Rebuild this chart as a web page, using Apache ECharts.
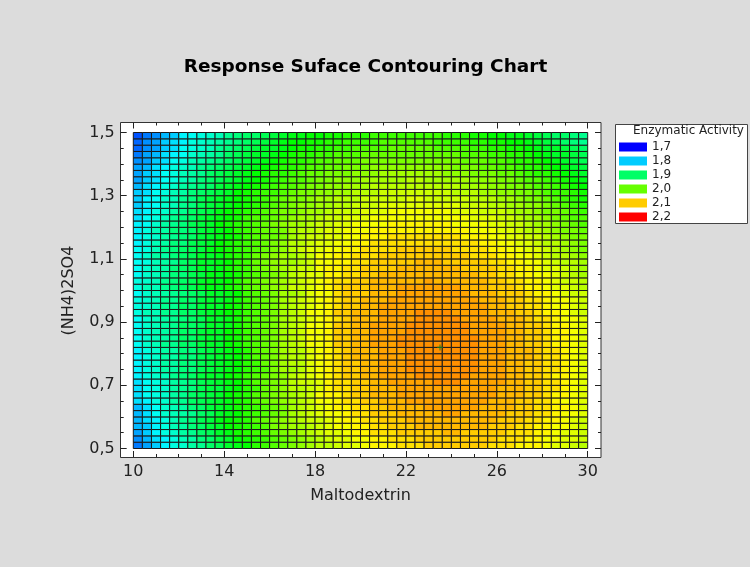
<!DOCTYPE html>
<html><head><meta charset="utf-8">
<script src="https://cdn.jsdelivr.net/npm/echarts@6/dist/echarts.min.js"></script>
<style>html,body{margin:0;padding:0;background:#dcdcdc}#chart{width:750px;height:567px}</style>
</head><body><div id="chart"></div>
<script>
const titleText = 'Response Suface Contouring Chart';
const xName = 'Maltodextrin';
const yName = '(NH4)2SO4';
const legendTitle = 'Enzymatic Activity';
const xTicks = [10, 14, 18, 22, 26, 30];
const yTicks = [0.5, 0.7, 0.9, 1.1, 1.3, 1.5];
const legendLevels = [1.7, 1.8, 1.9, 2.0, 2.1, 2.2];
const optimum = [[23.5, 0.82]];
// cell centres
const maltodextrin = [10.2,10.6,11.0,11.4,11.8,12.2,12.6,13.0,13.4,13.8,14.2,14.6,15.0,15.4,15.8,16.2,16.6,17.0,17.4,17.8,18.2,18.6,19.0,19.4,19.8,20.2,20.6,21.0,21.4,21.8,22.2,22.6,23.0,23.4,23.8,24.2,24.6,25.0,25.4,25.8,26.2,26.6,27.0,27.4,27.8,28.2,28.6,29.0,29.4,29.8];
const ammonium = [0.51,0.53,0.55,0.57,0.59,0.61,0.63,0.65,0.67,0.69,0.71,0.73,0.75,0.77,0.79,0.81,0.83,0.85,0.87,0.89,0.91,0.93,0.95,0.97,0.99,1.01,1.03,1.05,1.07,1.09,1.11,1.13,1.15,1.17,1.19,1.21,1.23,1.25,1.27,1.29,1.31,1.33,1.35,1.37,1.39,1.41,1.43,1.45,1.47,1.49];
// activity[row = ammonium index][col = maltodextrin index]
const activity = [
[1.76,1.78,1.80,1.82,1.84,1.85,1.87,1.88,1.90,1.91,1.93,1.94,1.95,1.97,1.98,1.99,2.00,2.01,2.02,2.03,2.04,2.04,2.05,2.06,2.06,2.07,2.08,2.08,2.08,2.09,2.09,2.09,2.10,2.10,2.10,2.10,2.10,2.10,2.10,2.09,2.09,2.09,2.08,2.08,2.08,2.07,2.06,2.06,2.05,2.04],
[1.77,1.79,1.81,1.82,1.84,1.86,1.87,1.89,1.90,1.92,1.93,1.95,1.96,1.97,1.98,1.99,2.00,2.01,2.02,2.03,2.04,2.05,2.06,2.06,2.07,2.07,2.08,2.08,2.09,2.09,2.09,2.10,2.10,2.10,2.10,2.10,2.10,2.10,2.10,2.10,2.09,2.09,2.09,2.08,2.08,2.07,2.07,2.06,2.06,2.05],
[1.78,1.80,1.82,1.84,1.85,1.87,1.88,1.90,1.91,1.93,1.94,1.96,1.97,1.98,1.99,2.00,2.01,2.02,2.03,2.04,2.05,2.06,2.06,2.07,2.08,2.08,2.09,2.09,2.09,2.10,2.10,2.10,2.10,2.10,2.11,2.11,2.10,2.10,2.10,2.10,2.10,2.09,2.09,2.09,2.08,2.08,2.07,2.06,2.06,2.05],
[1.79,1.80,1.82,1.84,1.86,1.87,1.89,1.90,1.92,1.93,1.95,1.96,1.97,1.98,1.99,2.01,2.02,2.03,2.03,2.04,2.05,2.06,2.07,2.07,2.08,2.08,2.09,2.09,2.10,2.10,2.10,2.11,2.11,2.11,2.11,2.11,2.11,2.11,2.11,2.10,2.10,2.10,2.09,2.09,2.08,2.08,2.07,2.07,2.06,2.05],
[1.79,1.81,1.82,1.84,1.86,1.88,1.89,1.91,1.92,1.94,1.95,1.96,1.97,1.99,2.00,2.01,2.02,2.03,2.04,2.05,2.05,2.06,2.07,2.08,2.08,2.09,2.09,2.10,2.10,2.10,2.11,2.11,2.11,2.11,2.11,2.11,2.11,2.11,2.11,2.11,2.10,2.10,2.10,2.09,2.09,2.08,2.08,2.07,2.06,2.05],
[1.79,1.81,1.83,1.85,1.86,1.87,1.88,1.90,1.91,1.93,1.94,1.95,1.97,1.98,1.99,2.00,2.01,2.03,2.04,2.05,2.06,2.07,2.07,2.08,2.09,2.09,2.10,2.10,2.10,2.11,2.11,2.11,2.11,2.11,2.12,2.12,2.11,2.11,2.11,2.11,2.11,2.10,2.10,2.10,2.09,2.09,2.08,2.07,2.07,2.06],
[1.79,1.81,1.83,1.85,1.86,1.87,1.89,1.90,1.92,1.93,1.94,1.96,1.97,1.98,1.99,2.00,2.01,2.03,2.04,2.05,2.06,2.07,2.08,2.08,2.09,2.09,2.10,2.10,2.11,2.11,2.11,2.11,2.12,2.12,2.12,2.12,2.12,2.12,2.11,2.11,2.11,2.11,2.10,2.10,2.09,2.09,2.08,2.08,2.07,2.06],
[1.81,1.82,1.84,1.85,1.87,1.88,1.90,1.91,1.92,1.93,1.94,1.96,1.97,1.99,2.00,2.01,2.02,2.03,2.04,2.05,2.07,2.07,2.08,2.09,2.09,2.10,2.10,2.11,2.11,2.11,2.12,2.12,2.12,2.12,2.12,2.12,2.12,2.12,2.12,2.11,2.11,2.11,2.10,2.10,2.09,2.09,2.08,2.07,2.07,2.06],
[1.81,1.83,1.84,1.85,1.87,1.88,1.90,1.91,1.92,1.93,1.95,1.96,1.97,1.99,2.00,2.01,2.02,2.03,2.04,2.05,2.07,2.08,2.08,2.09,2.10,2.10,2.11,2.11,2.11,2.12,2.12,2.12,2.12,2.12,2.12,2.12,2.12,2.12,2.12,2.12,2.11,2.11,2.11,2.10,2.10,2.09,2.08,2.08,2.07,2.06],
[1.81,1.83,1.84,1.85,1.87,1.88,1.89,1.91,1.92,1.92,1.94,1.95,1.97,1.98,2.00,2.01,2.02,2.04,2.04,2.05,2.06,2.08,2.09,2.09,2.10,2.10,2.11,2.11,2.11,2.12,2.12,2.12,2.12,2.12,2.12,2.12,2.12,2.12,2.12,2.12,2.11,2.11,2.11,2.10,2.10,2.09,2.09,2.08,2.07,2.06],
[1.81,1.83,1.84,1.85,1.87,1.88,1.89,1.91,1.92,1.93,1.94,1.95,1.97,1.99,2.00,2.01,2.02,2.04,2.05,2.05,2.06,2.08,2.09,2.09,2.10,2.10,2.11,2.11,2.12,2.12,2.12,2.12,2.12,2.13,2.13,2.13,2.12,2.12,2.12,2.12,2.12,2.11,2.11,2.10,2.10,2.09,2.09,2.08,2.07,2.06],
[1.82,1.84,1.85,1.86,1.88,1.89,1.90,1.92,1.93,1.93,1.95,1.96,1.98,1.99,2.00,2.01,2.02,2.04,2.05,2.06,2.07,2.08,2.09,2.10,2.10,2.11,2.11,2.12,2.12,2.12,2.12,2.13,2.13,2.13,2.13,2.13,2.13,2.12,2.12,2.12,2.12,2.11,2.11,2.10,2.10,2.09,2.08,2.08,2.07,2.06],
[1.82,1.84,1.85,1.87,1.87,1.89,1.89,1.91,1.92,1.93,1.94,1.95,1.97,1.98,1.99,2.01,2.03,2.03,2.04,2.06,2.07,2.08,2.09,2.10,2.10,2.11,2.11,2.12,2.12,2.12,2.13,2.13,2.13,2.13,2.13,2.13,2.13,2.13,2.12,2.12,2.12,2.11,2.11,2.10,2.10,2.09,2.09,2.08,2.07,2.06],
[1.82,1.84,1.85,1.87,1.87,1.89,1.89,1.91,1.92,1.93,1.94,1.95,1.97,1.98,2.00,2.01,2.03,2.04,2.04,2.06,2.07,2.08,2.09,2.10,2.10,2.11,2.11,2.12,2.12,2.12,2.13,2.13,2.13,2.13,2.13,2.13,2.13,2.13,2.12,2.12,2.12,2.11,2.11,2.10,2.10,2.09,2.09,2.08,2.07,2.06],
[1.82,1.84,1.85,1.87,1.87,1.89,1.89,1.91,1.92,1.93,1.94,1.95,1.97,1.99,2.00,2.01,2.03,2.04,2.04,2.06,2.07,2.08,2.09,2.10,2.11,2.11,2.11,2.12,2.12,2.12,2.13,2.13,2.13,2.13,2.13,2.13,2.13,2.13,2.12,2.12,2.12,2.11,2.11,2.11,2.10,2.09,2.09,2.08,2.07,2.06],
[1.82,1.84,1.85,1.87,1.87,1.89,1.89,1.91,1.92,1.93,1.94,1.95,1.97,1.99,2.00,2.01,2.03,2.04,2.04,2.06,2.07,2.08,2.09,2.10,2.11,2.11,2.11,2.12,2.12,2.12,2.13,2.13,2.13,2.13,2.13,2.13,2.13,2.13,2.12,2.12,2.12,2.11,2.11,2.11,2.10,2.09,2.09,2.08,2.07,2.06],
[1.83,1.85,1.86,1.88,1.88,1.90,1.90,1.92,1.93,1.93,1.95,1.96,1.98,1.99,2.00,2.01,2.03,2.04,2.05,2.07,2.07,2.08,2.10,2.10,2.11,2.11,2.12,2.12,2.12,2.13,2.13,2.13,2.13,2.13,2.13,2.13,2.13,2.13,2.12,2.12,2.12,2.11,2.11,2.10,2.10,2.09,2.08,2.08,2.07,2.06],
[1.83,1.85,1.86,1.87,1.88,1.90,1.90,1.92,1.93,1.93,1.95,1.96,1.98,1.99,2.00,2.01,2.03,2.04,2.05,2.07,2.07,2.08,2.10,2.10,2.11,2.11,2.12,2.12,2.12,2.13,2.13,2.13,2.13,2.13,2.13,2.13,2.13,2.13,2.12,2.12,2.12,2.11,2.11,2.10,2.10,2.09,2.08,2.08,2.07,2.06],
[1.83,1.85,1.86,1.87,1.88,1.90,1.90,1.92,1.93,1.93,1.95,1.96,1.98,1.99,2.00,2.01,2.03,2.04,2.05,2.07,2.07,2.08,2.10,2.10,2.11,2.11,2.12,2.12,2.12,2.12,2.13,2.13,2.13,2.13,2.13,2.13,2.13,2.12,2.12,2.12,2.12,2.11,2.11,2.10,2.10,2.09,2.08,2.08,2.07,2.06],
[1.83,1.85,1.86,1.87,1.88,1.90,1.90,1.91,1.93,1.93,1.94,1.96,1.98,1.99,2.00,2.01,2.03,2.04,2.05,2.07,2.07,2.08,2.10,2.10,2.11,2.11,2.12,2.12,2.12,2.12,2.13,2.13,2.13,2.13,2.13,2.13,2.13,2.12,2.12,2.12,2.12,2.11,2.11,2.10,2.10,2.09,2.08,2.08,2.07,2.06],
[1.83,1.85,1.86,1.87,1.88,1.89,1.90,1.91,1.93,1.93,1.94,1.96,1.98,1.99,2.00,2.01,2.03,2.04,2.05,2.06,2.07,2.08,2.09,2.10,2.11,2.11,2.11,2.12,2.12,2.12,2.12,2.13,2.13,2.13,2.13,2.13,2.12,2.12,2.12,2.12,2.11,2.11,2.11,2.10,2.09,2.09,2.08,2.07,2.07,2.06],
[1.84,1.86,1.86,1.88,1.88,1.90,1.90,1.92,1.93,1.94,1.95,1.96,1.98,1.99,2.00,2.01,2.03,2.04,2.05,2.07,2.07,2.08,2.10,2.10,2.11,2.11,2.11,2.12,2.12,2.12,2.12,2.13,2.13,2.13,2.13,2.12,2.12,2.12,2.12,2.11,2.11,2.11,2.10,2.10,2.09,2.08,2.08,2.07,2.06,2.05],
[1.84,1.85,1.86,1.88,1.88,1.90,1.90,1.92,1.93,1.93,1.95,1.96,1.98,1.99,2.00,2.01,2.03,2.04,2.05,2.06,2.07,2.08,2.09,2.10,2.10,2.11,2.11,2.12,2.12,2.12,2.12,2.12,2.12,2.12,2.12,2.12,2.12,2.12,2.12,2.11,2.11,2.10,2.10,2.09,2.09,2.08,2.07,2.07,2.06,2.05],
[1.84,1.85,1.86,1.88,1.88,1.90,1.90,1.92,1.93,1.93,1.94,1.96,1.98,1.99,2.00,2.01,2.03,2.04,2.05,2.06,2.07,2.08,2.09,2.10,2.10,2.11,2.11,2.11,2.12,2.12,2.12,2.12,2.12,2.12,2.12,2.12,2.12,2.12,2.11,2.11,2.11,2.10,2.10,2.09,2.09,2.08,2.07,2.07,2.06,2.05],
[1.83,1.85,1.86,1.87,1.88,1.89,1.90,1.91,1.93,1.93,1.94,1.95,1.98,1.99,2.00,2.01,2.03,2.03,2.04,2.06,2.07,2.07,2.09,2.10,2.10,2.10,2.11,2.11,2.11,2.12,2.12,2.12,2.12,2.12,2.12,2.12,2.12,2.11,2.11,2.11,2.10,2.10,2.10,2.09,2.08,2.08,2.07,2.06,2.05,2.05],
[1.84,1.86,1.86,1.88,1.89,1.90,1.91,1.93,1.94,1.94,1.96,1.97,1.99,2.00,2.01,2.02,2.03,2.05,2.05,2.06,2.07,2.08,2.09,2.10,2.10,2.10,2.11,2.11,2.11,2.12,2.12,2.12,2.12,2.12,2.12,2.12,2.11,2.11,2.11,2.10,2.10,2.10,2.09,2.08,2.08,2.07,2.06,2.06,2.05,2.04],
[1.84,1.85,1.86,1.88,1.89,1.90,1.91,1.93,1.94,1.94,1.95,1.97,1.99,2.00,2.01,2.02,2.03,2.04,2.05,2.06,2.07,2.08,2.09,2.09,2.10,2.10,2.11,2.11,2.11,2.11,2.11,2.11,2.12,2.11,2.11,2.11,2.11,2.11,2.11,2.10,2.10,2.09,2.09,2.08,2.08,2.07,2.06,2.05,2.05,2.04],
[1.83,1.85,1.86,1.87,1.89,1.89,1.91,1.92,1.94,1.94,1.95,1.96,1.98,1.99,2.00,2.01,2.02,2.04,2.05,2.06,2.06,2.08,2.08,2.09,2.09,2.10,2.10,2.11,2.11,2.11,2.11,2.11,2.11,2.11,2.11,2.11,2.11,2.11,2.10,2.10,2.09,2.09,2.08,2.08,2.07,2.07,2.06,2.05,2.04,2.03],
[1.83,1.85,1.86,1.87,1.89,1.90,1.91,1.93,1.93,1.94,1.96,1.97,1.98,2.00,2.01,2.02,2.03,2.04,2.05,2.05,2.07,2.08,2.08,2.09,2.09,2.10,2.10,2.10,2.10,2.11,2.11,2.11,2.11,2.11,2.11,2.11,2.10,2.10,2.10,2.10,2.09,2.09,2.08,2.08,2.07,2.06,2.06,2.05,2.04,2.03],
[1.83,1.84,1.86,1.87,1.88,1.90,1.91,1.93,1.93,1.94,1.95,1.97,1.98,2.00,2.01,2.02,2.03,2.03,2.04,2.05,2.07,2.07,2.08,2.08,2.09,2.09,2.10,2.10,2.10,2.10,2.10,2.11,2.11,2.11,2.10,2.10,2.10,2.10,2.10,2.09,2.09,2.08,2.08,2.07,2.07,2.06,2.05,2.04,2.04,2.03],
[1.83,1.85,1.87,1.87,1.89,1.90,1.91,1.93,1.93,1.94,1.96,1.97,1.98,2.00,2.01,2.02,2.03,2.03,2.04,2.05,2.07,2.07,2.08,2.08,2.09,2.09,2.09,2.10,2.10,2.10,2.10,2.10,2.10,2.10,2.10,2.10,2.10,2.09,2.09,2.09,2.08,2.08,2.07,2.07,2.06,2.05,2.04,2.04,2.03,2.02],
[1.83,1.84,1.86,1.88,1.89,1.90,1.91,1.92,1.94,1.95,1.96,1.97,1.98,1.99,2.00,2.01,2.02,2.04,2.05,2.06,2.06,2.07,2.07,2.08,2.08,2.09,2.09,2.09,2.09,2.10,2.10,2.10,2.10,2.10,2.10,2.09,2.09,2.09,2.09,2.08,2.08,2.07,2.07,2.06,2.06,2.05,2.04,2.03,2.02,2.01],
[1.82,1.84,1.86,1.87,1.89,1.89,1.91,1.92,1.93,1.95,1.96,1.97,1.98,1.99,2.00,2.01,2.02,2.04,2.04,2.05,2.06,2.06,2.07,2.07,2.08,2.08,2.09,2.09,2.09,2.09,2.09,2.09,2.09,2.09,2.09,2.09,2.09,2.09,2.08,2.08,2.07,2.07,2.06,2.06,2.05,2.04,2.04,2.03,2.02,2.01],
[1.82,1.84,1.85,1.87,1.88,1.89,1.90,1.92,1.93,1.94,1.95,1.96,1.98,1.99,2.00,2.00,2.01,2.03,2.04,2.05,2.05,2.06,2.06,2.07,2.07,2.08,2.08,2.08,2.09,2.09,2.09,2.09,2.09,2.09,2.09,2.09,2.08,2.08,2.08,2.07,2.07,2.06,2.06,2.05,2.05,2.04,2.03,2.02,2.01,2.01],
[1.82,1.84,1.86,1.87,1.89,1.89,1.90,1.92,1.93,1.94,1.95,1.97,1.98,1.99,2.00,2.00,2.01,2.03,2.04,2.04,2.05,2.06,2.06,2.07,2.07,2.07,2.08,2.08,2.08,2.08,2.08,2.08,2.08,2.08,2.08,2.08,2.08,2.07,2.07,2.07,2.06,2.06,2.05,2.04,2.04,2.03,2.02,2.01,2.01,2.00],
[1.82,1.83,1.85,1.87,1.88,1.89,1.91,1.92,1.93,1.95,1.96,1.97,1.98,1.99,2.00,2.01,2.02,2.03,2.03,2.04,2.05,2.05,2.06,2.06,2.07,2.07,2.07,2.07,2.08,2.08,2.08,2.08,2.08,2.08,2.08,2.07,2.07,2.07,2.07,2.06,2.06,2.05,2.05,2.04,2.03,2.03,2.02,2.01,2.00,1.99],
[1.81,1.83,1.84,1.86,1.88,1.89,1.90,1.92,1.93,1.94,1.95,1.96,1.98,1.99,1.99,2.00,2.01,2.02,2.03,2.03,2.04,2.05,2.05,2.06,2.06,2.06,2.07,2.07,2.07,2.07,2.07,2.07,2.07,2.07,2.07,2.07,2.07,2.06,2.06,2.06,2.05,2.05,2.04,2.03,2.03,2.02,2.01,2.00,1.99,1.99],
[1.81,1.82,1.84,1.85,1.87,1.88,1.90,1.91,1.92,1.94,1.95,1.96,1.97,1.98,1.99,2.00,2.01,2.01,2.02,2.03,2.03,2.04,2.05,2.05,2.05,2.06,2.06,2.06,2.07,2.07,2.07,2.07,2.07,2.07,2.07,2.06,2.06,2.06,2.05,2.05,2.05,2.04,2.03,2.03,2.02,2.01,2.01,2.00,1.99,1.98],
[1.80,1.82,1.83,1.85,1.86,1.88,1.89,1.91,1.92,1.93,1.94,1.95,1.96,1.97,1.98,1.99,2.00,2.01,2.02,2.02,2.03,2.03,2.04,2.04,2.05,2.05,2.05,2.06,2.06,2.06,2.06,2.06,2.06,2.06,2.06,2.06,2.05,2.05,2.05,2.04,2.04,2.03,2.03,2.02,2.02,2.01,2.00,1.99,1.98,1.97],
[1.80,1.82,1.83,1.85,1.86,1.88,1.89,1.91,1.92,1.93,1.94,1.95,1.96,1.97,1.98,1.99,2.00,2.01,2.01,2.02,2.03,2.03,2.04,2.04,2.04,2.05,2.05,2.05,2.05,2.05,2.06,2.06,2.05,2.05,2.05,2.05,2.05,2.04,2.04,2.04,2.03,2.03,2.02,2.01,2.01,2.00,1.99,1.98,1.97,1.96],
[1.80,1.81,1.83,1.84,1.86,1.87,1.89,1.90,1.91,1.92,1.93,1.95,1.96,1.97,1.98,1.98,1.99,2.00,2.01,2.01,2.02,2.02,2.03,2.03,2.04,2.04,2.04,2.05,2.05,2.05,2.05,2.05,2.05,2.05,2.05,2.04,2.04,2.04,2.03,2.03,2.02,2.02,2.01,2.01,2.00,1.99,1.98,1.98,1.97,1.96],
[1.79,1.81,1.82,1.84,1.85,1.87,1.88,1.89,1.90,1.92,1.93,1.94,1.95,1.96,1.97,1.98,1.99,1.99,2.00,2.01,2.01,2.02,2.02,2.03,2.03,2.03,2.04,2.04,2.04,2.04,2.04,2.04,2.04,2.04,2.04,2.04,2.03,2.03,2.03,2.02,2.02,2.01,2.01,2.00,1.99,1.99,1.98,1.97,1.96,1.95],
[1.78,1.80,1.81,1.83,1.84,1.86,1.87,1.89,1.90,1.91,1.92,1.93,1.94,1.95,1.96,1.97,1.98,1.99,1.99,2.00,2.01,2.01,2.02,2.02,2.02,2.03,2.03,2.03,2.03,2.03,2.04,2.04,2.03,2.03,2.03,2.03,2.03,2.02,2.02,2.02,2.01,2.01,2.00,1.99,1.99,1.98,1.97,1.96,1.95,1.94],
[1.78,1.80,1.81,1.83,1.84,1.86,1.87,1.88,1.90,1.91,1.92,1.93,1.94,1.95,1.96,1.97,1.97,1.98,1.99,2.00,2.00,2.01,2.01,2.01,2.02,2.02,2.02,2.03,2.03,2.03,2.03,2.03,2.03,2.03,2.02,2.02,2.02,2.01,2.01,2.01,2.00,2.00,1.99,1.98,1.97,1.97,1.96,1.95,1.94,1.93],
[1.78,1.79,1.81,1.82,1.84,1.85,1.86,1.88,1.89,1.90,1.91,1.92,1.93,1.94,1.95,1.96,1.97,1.97,1.98,1.99,1.99,2.00,2.00,2.01,2.01,2.01,2.02,2.02,2.02,2.02,2.02,2.02,2.02,2.02,2.02,2.01,2.01,2.01,2.00,2.00,1.99,1.99,1.98,1.97,1.97,1.96,1.95,1.94,1.93,1.92],
[1.77,1.78,1.80,1.81,1.83,1.84,1.86,1.87,1.88,1.89,1.90,1.91,1.92,1.93,1.94,1.95,1.96,1.97,1.97,1.98,1.99,1.99,2.00,2.00,2.00,2.01,2.01,2.01,2.01,2.01,2.01,2.01,2.01,2.01,2.01,2.01,2.00,2.00,2.00,1.99,1.99,1.98,1.97,1.97,1.96,1.95,1.94,1.93,1.92,1.91],
[1.76,1.78,1.79,1.81,1.82,1.83,1.85,1.86,1.87,1.88,1.90,1.91,1.92,1.93,1.93,1.94,1.95,1.96,1.97,1.97,1.98,1.98,1.99,1.99,1.99,2.00,2.00,2.00,2.00,2.00,2.00,2.00,2.00,2.00,2.00,2.00,1.99,1.99,1.99,1.98,1.98,1.97,1.97,1.96,1.95,1.94,1.93,1.93,1.92,1.91],
[1.75,1.77,1.78,1.80,1.81,1.83,1.84,1.85,1.86,1.88,1.89,1.90,1.91,1.92,1.93,1.93,1.94,1.95,1.96,1.96,1.97,1.97,1.98,1.98,1.99,1.99,1.99,1.99,2.00,2.00,2.00,2.00,2.00,1.99,1.99,1.99,1.99,1.98,1.98,1.97,1.97,1.96,1.96,1.95,1.94,1.93,1.93,1.92,1.91,1.90],
[1.75,1.77,1.78,1.80,1.81,1.82,1.84,1.85,1.86,1.87,1.88,1.89,1.90,1.91,1.92,1.93,1.94,1.95,1.95,1.96,1.96,1.97,1.97,1.98,1.98,1.98,1.98,1.99,1.99,1.99,1.99,1.99,1.99,1.98,1.98,1.98,1.98,1.97,1.97,1.96,1.96,1.95,1.95,1.94,1.93,1.92,1.91,1.90,1.89,1.88],
[1.74,1.76,1.77,1.79,1.80,1.82,1.83,1.84,1.85,1.86,1.88,1.89,1.90,1.90,1.91,1.92,1.93,1.94,1.94,1.95,1.95,1.96,1.96,1.97,1.97,1.97,1.98,1.98,1.98,1.98,1.98,1.98,1.98,1.98,1.97,1.97,1.97,1.96,1.96,1.95,1.95,1.94,1.94,1.93,1.92,1.91,1.90,1.90,1.89,1.88]
];
const legendColors = ['#0000FF', '#00CCFF', '#00FF66', '#66FF00', '#FFCC00', '#FF0000'];
const scaleColors = ['#0000FF','#0033FF','#0066FF','#0099FF','#00CCFF','#00FFFF','#00FFCC','#00FF99','#00FF66','#00FF33','#00FF00','#33FF00','#66FF00','#99FF00','#CCFF00','#FFFF00','#FFCC00','#FF9900','#FF6600','#FF3300','#FF0000'];

const FONT = 'DejaVu Sans';
const cells = [];
for (let j = 0; j < ammonium.length; j++) {
  for (let i = 0; i < maltodextrin.length; i++) {
    cells.push([maltodextrin[i], ammonium[j], activity[j][i]]);
  }
}
const halfW = (maltodextrin[1] - maltodextrin[0]) / 2;
const halfH = (ammonium[1] - ammonium[0]) / 2;
const fmtComma = v => v.toFixed(1).replace('.', ',');

const tickCommon = {
  axisLine: { show: false },
  axisTick: { show: true, inside: true, length: 6, lineStyle: { color: '#222', width: 1 } },
  minorTick: { show: true, splitNumber: 4, length: 3, lineStyle: { color: '#222', width: 1 } },
  splitLine: { show: false }
};
const xBase = { type: 'value', min: xTicks[0], max: xTicks[xTicks.length - 1], interval: xTicks[1] - xTicks[0] };
const yBase = { type: 'value', min: yTicks[0], max: yTicks[yTicks.length - 1], interval: +(yTicks[1] - yTicks[0]).toFixed(2) };

const chart = echarts.init(document.getElementById('chart'), null, { renderer: 'canvas' });
const legendSeries = legendLevels.map((lv, k) => ({
  name: fmtComma(lv), type: 'line', data: [], xAxisIndex: 0, yAxisIndex: 0,
  itemStyle: { color: legendColors[k] }, lineStyle: { color: legendColors[k] }
}));

chart.setOption({
  backgroundColor: '#dcdcdc',
  animation: false,
  textStyle: { fontFamily: FONT },
  title: {
    text: titleText, left: 360.5, top: 53, textAlign: 'center',
    textStyle: { fontFamily: FONT, fontSize: 18.5, fontWeight: 'bold', color: '#000' }
  },
  graphic: [
    { type: 'rect', z: -10, shape: { x: 120.5, y: 122.5, width: 480.5, height: 335 },
      style: { fill: '#ffffff', stroke: '#333', lineWidth: 1 } },
    { type: 'rect', z: -10, shape: { x: 615.5, y: 124.5, width: 132, height: 99 },
      style: { fill: '#ffffff', stroke: '#444', lineWidth: 1 } },
    { type: 'text', z: 10, left: 633, top: 125,
      style: { text: legendTitle, font: '12px "DejaVu Sans"', fill: '#222' } }
  ],
  legend: {
    orient: 'vertical', left: 619, top: 141, padding: 0,
    itemWidth: 28, itemHeight: 9, itemGap: 2, icon: 'rect',
    selectedMode: false,
    data: legendLevels.map(fmtComma),
    textStyle: { fontFamily: FONT, fontSize: 12, color: '#222', lineHeight: 12 }
  },
  grid: { left: 133.3, top: 132.5, width: 454.4, height: 316, containLabel: false },
  visualMap: {
    type: 'continuous', show: false, min: legendLevels[0], max: legendLevels[legendLevels.length - 1],
    dimension: 2, seriesIndex: 0, inRange: { color: scaleColors }
  },
  xAxis: [
    Object.assign({}, xBase, tickCommon, {
      position: 'bottom', offset: 8.5,
      axisLabel: { fontFamily: FONT, fontSize: 16, color: '#222', margin: 7 },
      name: xName, nameLocation: 'middle', nameGap: 31,
      nameTextStyle: { fontFamily: FONT, fontSize: 16, color: '#222' }
    }),
    Object.assign({}, xBase, tickCommon, {
      position: 'top', offset: 10, axisLabel: { show: false }
    })
  ],
  yAxis: [
    Object.assign({}, yBase, tickCommon, {
      position: 'left', offset: 12.6,
      axisLabel: { fontFamily: FONT, fontSize: 16, color: '#222', margin: 6, formatter: fmtComma },
      name: yName, nameLocation: 'middle', nameGap: 44,
      nameTextStyle: { fontFamily: FONT, fontSize: 16, color: '#222' }
    }),
    Object.assign({}, yBase, tickCommon, {
      position: 'right', offset: 13.3, axisLabel: { show: false }
    })
  ],
  series: [
    {
      type: 'custom', xAxisIndex: 0, yAxisIndex: 0, data: cells,
      encode: { x: 0, y: 1 }, z: 2,
      renderItem: function (params, api) {
        const x = api.value(0), y = api.value(1);
        const p0 = api.coord([x - halfW, y + halfH]);
        const p1 = api.coord([x + halfW, y - halfH]);
        return {
          type: 'rect',
          shape: { x: p0[0], y: p0[1], width: p1[0] - p0[0], height: p1[1] - p0[1] },
          style: { fill: api.visual('color'), stroke: '#1a1a1a', lineWidth: 1 }
        };
      }
    },
    {
      type: 'scatter', xAxisIndex: 0, yAxisIndex: 0, data: optimum, z: 5,
      symbol: 'path://M2,0H3V2H5V3H3V5H2V3H0V2H2Z', symbolSize: 6,
      itemStyle: { color: '#1e7f1e' }, silent: true
    }
  ].concat(legendSeries)
});
</script>
</body></html>
